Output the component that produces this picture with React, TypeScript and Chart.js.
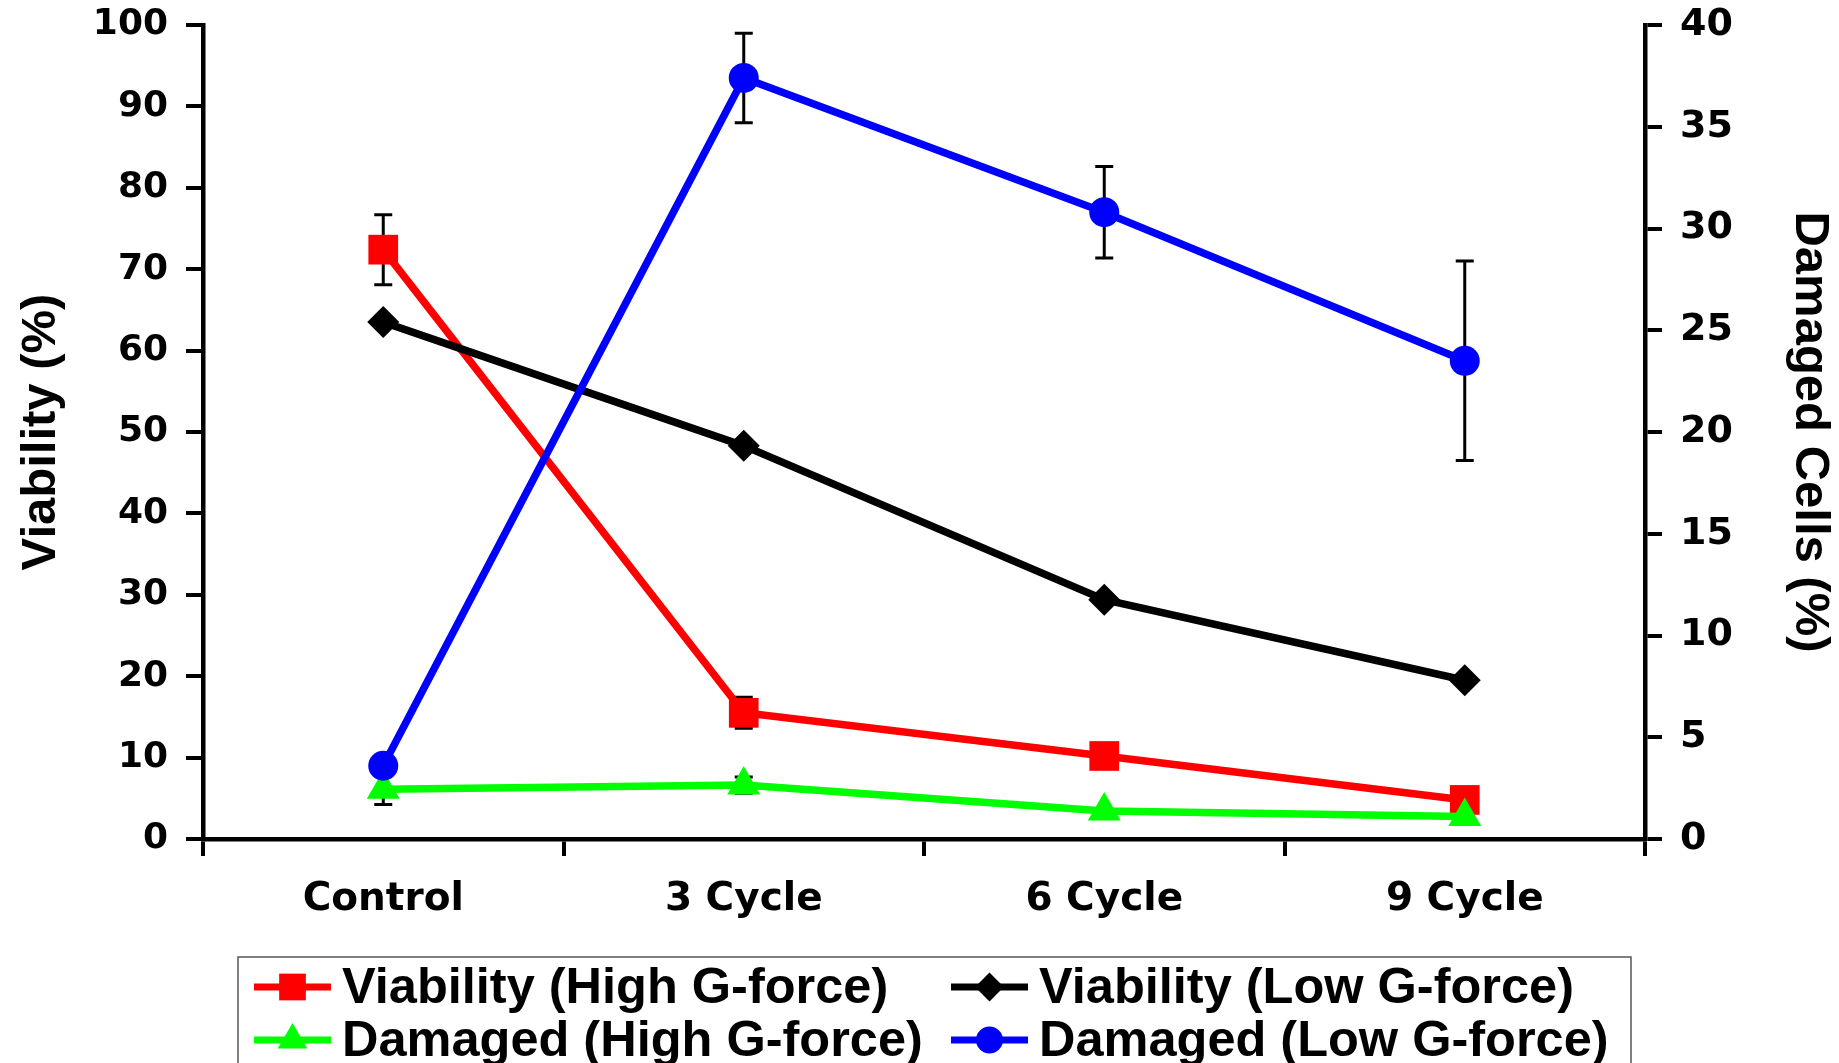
import React, { useEffect, useRef } from "react";
import { Chart, registerables } from "chart.js";

Chart.register(...registerables);

const categories = ["Control", "3 Cycle", "6 Cycle", "9 Cycle"];

const viabilityHigh = [72.4, 15.5, 10.2, 4.8];
const viabilityHighErr = [4.3, 1.9, 0, 0];
const viabilityLow = [63.5, 48.3, 29.4, 19.5];
const damagedHigh = [2.45, 2.65, 1.38, 1.1];
const damagedHighErr = [0.75, 0.4, 0, 0];
const damagedLow = [3.6, 37.4, 30.8, 23.5];
const damagedLowErr = [0, 2.2, 2.25, 4.9];

const leftAxis = { min: 0, max: 100, step: 10, title: "Viability (%)" };
const rightAxis = { min: 0, max: 40, step: 5, title: "Damaged Cells (%)" };

const legendOrder = [0, 1, 2, 3];

const W = 1839;
const H = 1063;

const errorBarPlugin = {
  id: "errorBars",
  beforeDatasetsDraw(chart: any) {
    const ctx = chart.ctx;
    const xScale = chart.scales.x;
    chart.data.datasets.forEach((ds: any) => {
      const errs = ds.errors as number[] | undefined;
      if (!errs) return;
      const yScale = chart.scales[ds.yAxisID];
      ds.data.forEach((v: number, i: number) => {
        const e = errs[i];
        if (!e) return;
        const x = xScale.getPixelForValue(i);
        const yTop = yScale.getPixelForValue(v + e);
        const yBot = yScale.getPixelForValue(v - e);
        ctx.save();
        ctx.strokeStyle = "#000";
        ctx.lineWidth = 3;
        ctx.beginPath();
        ctx.moveTo(x, yTop);
        ctx.lineTo(x, yBot);
        ctx.moveTo(x - 9, yTop);
        ctx.lineTo(x + 9, yTop);
        ctx.moveTo(x - 9, yBot);
        ctx.lineTo(x + 9, yBot);
        ctx.stroke();
        ctx.restore();
      });
    });
  },
};

function drawMarker(ctx: CanvasRenderingContext2D, style: string, x: number, y: number, r: number, color: string) {
  ctx.save();
  ctx.fillStyle = color;
  ctx.beginPath();
  if (style === "rect") {
    const s = Math.SQRT1_2 * r;
    ctx.rect(x - s, y - s, 2 * s, 2 * s);
  } else if (style === "rectRot") {
    ctx.moveTo(x, y - r);
    ctx.lineTo(x + r, y);
    ctx.lineTo(x, y + r);
    ctx.lineTo(x - r, y);
    ctx.closePath();
  } else if (style === "triangle") {
    ctx.moveTo(x, y - r);
    ctx.lineTo(x + r * Math.sin(Math.PI / 3), y + r / 2);
    ctx.lineTo(x - r * Math.sin(Math.PI / 3), y + r / 2);
    ctx.closePath();
  } else {
    ctx.arc(x, y, r, 0, Math.PI * 2);
  }
  ctx.fill();
  ctx.restore();
}

const customLegendPlugin = {
  id: "customLegend",
  afterDraw(chart: any) {
    const ctx = chart.ctx;
    const boxLeft = 238;
    const boxRight = 1631;
    const boxTop = 957;
    ctx.save();
    ctx.strokeStyle = "#555";
    ctx.lineWidth = 1.5;
    ctx.strokeRect(boxLeft, boxTop, boxRight - boxLeft, H - boxTop + 20);
    const colX = [254, 951];
    const rowY = [987, 1040];
    ctx.font = "bold 50.5px 'Liberation Sans', Arial, sans-serif";
    ctx.textBaseline = "middle";
    ctx.textAlign = "left";
    legendOrder.forEach((dsIndex, k) => {
      const ds = chart.data.datasets[dsIndex];
      const col = k % 2;
      const row = Math.floor(k / 2);
      const x0 = colX[col];
      const y = rowY[row];
      ctx.strokeStyle = ds.borderColor;
      ctx.lineWidth = 7;
      ctx.beginPath();
      ctx.moveTo(x0, y);
      ctx.lineTo(x0 + 77, y);
      ctx.stroke();
      drawMarker(ctx, ds.pointStyle, x0 + 38.5, y, ds.pointRadius * 0.9, ds.pointBackgroundColor);
      ctx.fillStyle = "#000";
      ctx.fillText(ds.label, x0 + 88, y + 2);
    });
    ctx.restore();
  },
};

export default function App() {
  const canvasRef = useRef<HTMLCanvasElement | null>(null);

  useEffect(() => {
    document.body.style.margin = "0";
    document.body.style.overflow = "hidden";
    const canvas = canvasRef.current;
    if (!canvas) return;

    const tickFont = { family: "'DejaVu Sans', sans-serif", size: 36, weight: "bold" as const };
    const titleFont = { family: "'Liberation Sans', Arial, sans-serif", size: 49, weight: "bold" as const };

    const chart = new Chart(canvas, {
      type: "line",
      data: {
        labels: categories,
        datasets: [
          {
            label: "Viability (High G-force)",
            data: viabilityHigh,
            errors: viabilityHighErr,
            yAxisID: "y",
            borderColor: "#ff0000",
            backgroundColor: "#ff0000",
            pointBackgroundColor: "#ff0000",
            pointBorderColor: "#ff0000",
            pointStyle: "rect",
            pointRadius: 21,
            pointBorderWidth: 0,
            borderWidth: 7.5,
            order: 4,
          } as any,
          {
            label: "Viability (Low G-force)",
            data: viabilityLow,
            yAxisID: "y",
            borderColor: "#000000",
            backgroundColor: "#000000",
            pointBackgroundColor: "#000000",
            pointBorderColor: "#000000",
            pointStyle: "rectRot",
            pointRadius: 16,
            pointBorderWidth: 0,
            borderWidth: 7.5,
            order: 3,
          } as any,
          {
            label: "Damaged (High G-force)",
            data: damagedHigh,
            errors: damagedHighErr,
            yAxisID: "y1",
            borderColor: "#00ff00",
            backgroundColor: "#00ff00",
            pointBackgroundColor: "#00ff00",
            pointBorderColor: "#00ff00",
            pointStyle: "triangle",
            pointRadius: 19,
            pointBorderWidth: 0,
            borderWidth: 7.5,
            order: 2,
          } as any,
          {
            label: "Damaged (Low G-force)",
            data: damagedLow,
            errors: damagedLowErr,
            yAxisID: "y1",
            borderColor: "#0000ff",
            backgroundColor: "#0000ff",
            pointBackgroundColor: "#0000ff",
            pointBorderColor: "#0000ff",
            pointStyle: "circle",
            pointRadius: 15,
            pointBorderWidth: 0,
            borderWidth: 7.5,
            order: 1,
          } as any,
        ],
      },
      options: {
        responsive: false,
        animation: false,
        layout: { padding: { top: 25, left: 0, right: 0, bottom: 0 } },
        plugins: {
          legend: { display: false },
          tooltip: { enabled: false },
        },
        scales: {
          x: {
            type: "category",
            offset: true,
            grid: {
              offset: true,
              drawOnChartArea: false,
              drawTicks: true,
              tickLength: 17,
              color: "#000",
              lineWidth: 4,
            },
            border: { display: true, color: "#000", width: 4.5 },
            ticks: { color: "#000", font: { ...tickFont, size: 39 }, padding: 20, maxRotation: 0 },
            afterFit: (s: any) => {
              s.height = 224;
              s.paddingLeft = 0;
              s.paddingRight = 0;
            },
          },
          y: {
            type: "linear",
            position: "left",
            min: leftAxis.min,
            max: leftAxis.max,
            ticks: { stepSize: leftAxis.step, color: "#000", font: tickFont, padding: 18 },
            grid: { drawOnChartArea: false, drawTicks: true, tickLength: 17, color: "#000", lineWidth: 4 },
            border: { display: true, color: "#000", width: 4.5 },
            title: {
              display: true,
              text: leftAxis.title,
              color: "#000",
              font: titleFont,
              padding: { top: 12, bottom: 0 },
            },
            afterFit: (s: any) => {
              s.width = 203;
              s.paddingTop = 0;
              s.paddingBottom = 0;
            },
          },
          y1: {
            type: "linear",
            position: "right",
            min: rightAxis.min,
            max: rightAxis.max,
            ticks: { stepSize: rightAxis.step, color: "#000", font: { ...tickFont, size: 38 }, padding: 18 },
            grid: { drawOnChartArea: false, drawTicks: true, tickLength: 17, color: "#000", lineWidth: 4 },
            border: { display: true, color: "#000", width: 4.5 },
            title: {
              display: true,
              text: rightAxis.title,
              color: "#000",
              font: titleFont,
              padding: { top: 0, bottom: 0 },
            },
            afterFit: (s: any) => {
              s.width = 194;
              s.paddingTop = 0;
              s.paddingBottom = 0;
            },
          },
        },
      } as any,
      plugins: [errorBarPlugin, customLegendPlugin],
    });

    return () => {
      chart.destroy();
    };
  }, []);

  return (
    <div style={{ width: W, height: H, background: "#fff" }}>
      <canvas ref={canvasRef} width={W} height={H} style={{ display: "block" }} />
    </div>
  );
}
